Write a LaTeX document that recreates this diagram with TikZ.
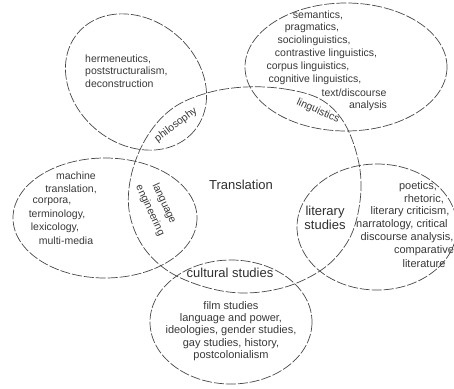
\documentclass[tikz,border=0pt]{standalone}
\usepackage{fontspec}
\setmainfont{Liberation Sans}
\begin{document}
\begin{tikzpicture}[x=1pt,y=-1pt,
  circ/.style={draw=black!72, line width=0.7pt, dash pattern=on 10pt off 2pt},
  txt/.style={font=\fontsize{10.5}{12.7}\selectfont, text=black!78, inner sep=0pt},
  txtl/.style={font=\fontsize{11}{12.4}\selectfont, text=black!78, inner sep=0pt},
  big/.style={font=\fontsize{13}{13.5}\selectfont, text=black!82, inner sep=0pt, align=center}]
\useasboundingbox (0,0) rectangle (454,388);
% ellipses
\coordinate (cPhil) at (136,82);
\coordinate (cLing) at (346,67);
\coordinate (cLit) at (377,227);
\coordinate (cCult) at (231,322);
\coordinate (cMach) at (105,218);
\draw[circ] (cPhil) ellipse [x radius=76, y radius=62, rotate=-40];
\draw[circ] (cLing) ellipse [x radius=101, y radius=64];
\draw[circ] plot[smooth cycle, tension=0.6] coordinates {
  (245,87) (285,89) (320,99) (343,121) (357,155) (361,190) (354,228)
  (338,255) (315,274) (282,288) (243,293) (205,287) (168,271) (142,245)
  (129,210) (132,172) (148,135) (173,108) (207,93)};
\draw[circ] (cLit) ellipse [x radius=80, y radius=63];
\draw[circ] (cCult) ellipse [x radius=81, y radius=62];
\draw[circ] (cMach) ellipse [x radius=92, y radius=60];
% philosophy
\node[txt, align=left, anchor=west] (philtxt) at (85,71) {hermeneutics,\\poststructuralism,\\deconstruction};
\node[txt, rotate=37] (phil) at (176,125) {philosophy};
% linguistics
\node[txt] (l1) at (318,15) {semantics,};
\node[txt] (l2) at (312,28) {pragmatics,};
\node[txt] (l3) at (314,41) {sociolinguistics,};
\node[txt] (l4) at (326,54) {contrastive linguistics,};
\node[txt] (l5) at (308,67) {corpus linguistics,};
\node[txt] (l6) at (315,80) {cognitive linguistics,};
\node[txt] (l7) at (354,93) {text/discourse};
\node[txt] (l8) at (368,106) {analysis};
\node[txt, rotate=-24] (ling) at (318,111) {linguistics};
% translation
\node[big] (tran) at (241,185) {Translation};
% literary studies
\node[big] (lit) at (325,218) {literary\\studies};
\node[txtl] (r1) at (418,187) {poetics,};
\node[txtl] (r2) at (424,199) {rhetoric,};
\node[txtl] (r3) at (410,212) {literary criticism,};
\node[txtl, anchor=west] (r4) at (356,225) {narratology, critical};
\node[txtl] (r5) at (407,238) {discourse analysis,};
\node[txtl] (r6) at (424,251) {comparative};
\node[txtl] (r7) at (424,264) {literature};
% cultural studies
\node[big] (cult) at (230,273) {cultural studies};
\node[txtl, align=center] (culttxt) at (231,331) {film studies\\language and power,\\ideologies, gender studies,\\gay studies, history,\\postcolonialism};
% machine translation
\node[txt] (m1) at (76,176) {machine};
\node[txt] (m2) at (71,189) {translation,};
\node[txt] (m3) at (52,202) {corpora,};
\node[txt] (m4) at (57,215) {terminology,};
\node[txt] (m5) at (55,228) {lexicology,};
\node[txt] (m6) at (66,241) {multi-media};
\node[txt, rotate=-65] (lang) at (164,203.5) {language};
\node[txt, rotate=-65] (eng) at (150,210.5) {engineering};
\end{tikzpicture}
\end{document}
